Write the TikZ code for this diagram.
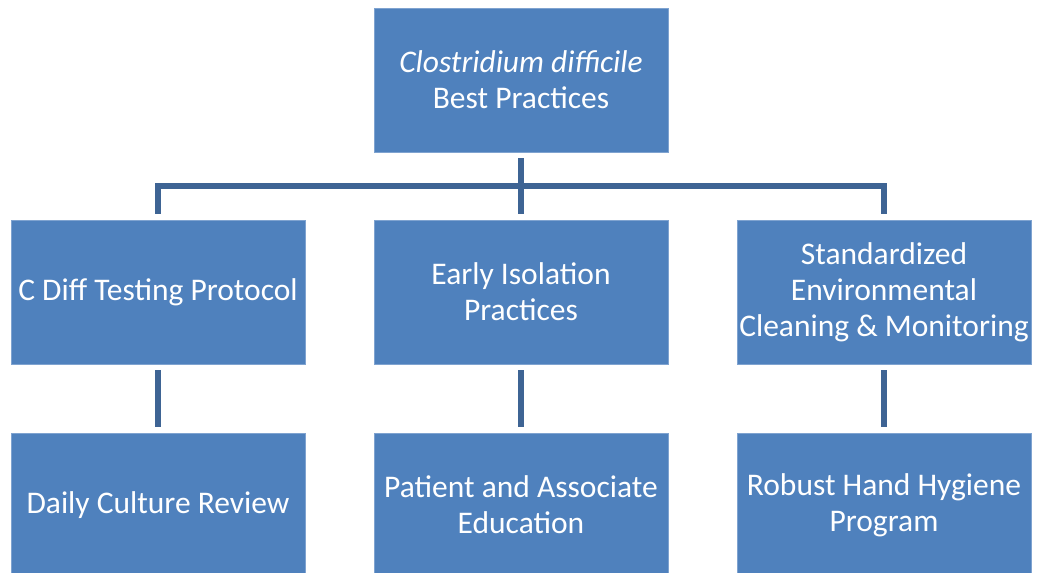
\documentclass[tikz,border=0pt]{standalone}
\usepackage{fontspec}
\setmainfont{Carlito}
\definecolor{boxblue}{HTML}{4F81BD}
\definecolor{boxedge}{HTML}{7FA3D0}
\definecolor{linkblue}{HTML}{3E6494}
\begin{document}
\begin{tikzpicture}[x=1pt,y=-1pt,
  card/.style={draw=boxedge,line width=0.8pt,fill=boxblue,text=white,
    minimum width=294pt,minimum height=144pt,align=center,inner sep=2pt,
    font=\fontsize{31.5}{36}\selectfont},
  link/.style={draw=linkblue,line width=6pt}]
\useasboundingbox (0,0) rectangle (1037,573);
\clip (0,0) rectangle (1037,573);
% top level
\node[card] (top) at (521,80) {\textit{Clostridium difficile}\\Best Practices};
% second row
\node[card] (a1) at (158,292) {C Diff Testing Protocol};
\node[card] (a2) at (521,292) {Early Isolation\\Practices};
\node[card] (a3) at (884,292) {Standardized\\Environmental\\Cleaning \& Monitoring};
% third row
\node[card] (b1) at (158,505) {Daily Culture Review};
\node[card] (b2) at (521,505) {Patient and Associate\\Education};
\node[card] (b3) at (884,505) {Robust Hand Hygiene\\Program};
% branch from the top box
\coordinate (hub) at (top.south |- 0,186);
\draw[link] ([yshift=-6pt]top.south) -- ([yshift=6pt]a2.north);
\draw[link] ([yshift=6pt]a1.north) -- (a1.north |- hub) -- (a3.north |- hub) -- ([yshift=6pt]a3.north);
% vertical links down each column
\draw[link] ([yshift=-6pt]a1.south) -- ([yshift=6pt]b1.north);
\draw[link] ([yshift=-6pt]a2.south) -- ([yshift=6pt]b2.north);
\draw[link] ([yshift=-6pt]a3.south) -- ([yshift=6pt]b3.north);
\end{tikzpicture}
\end{document}
